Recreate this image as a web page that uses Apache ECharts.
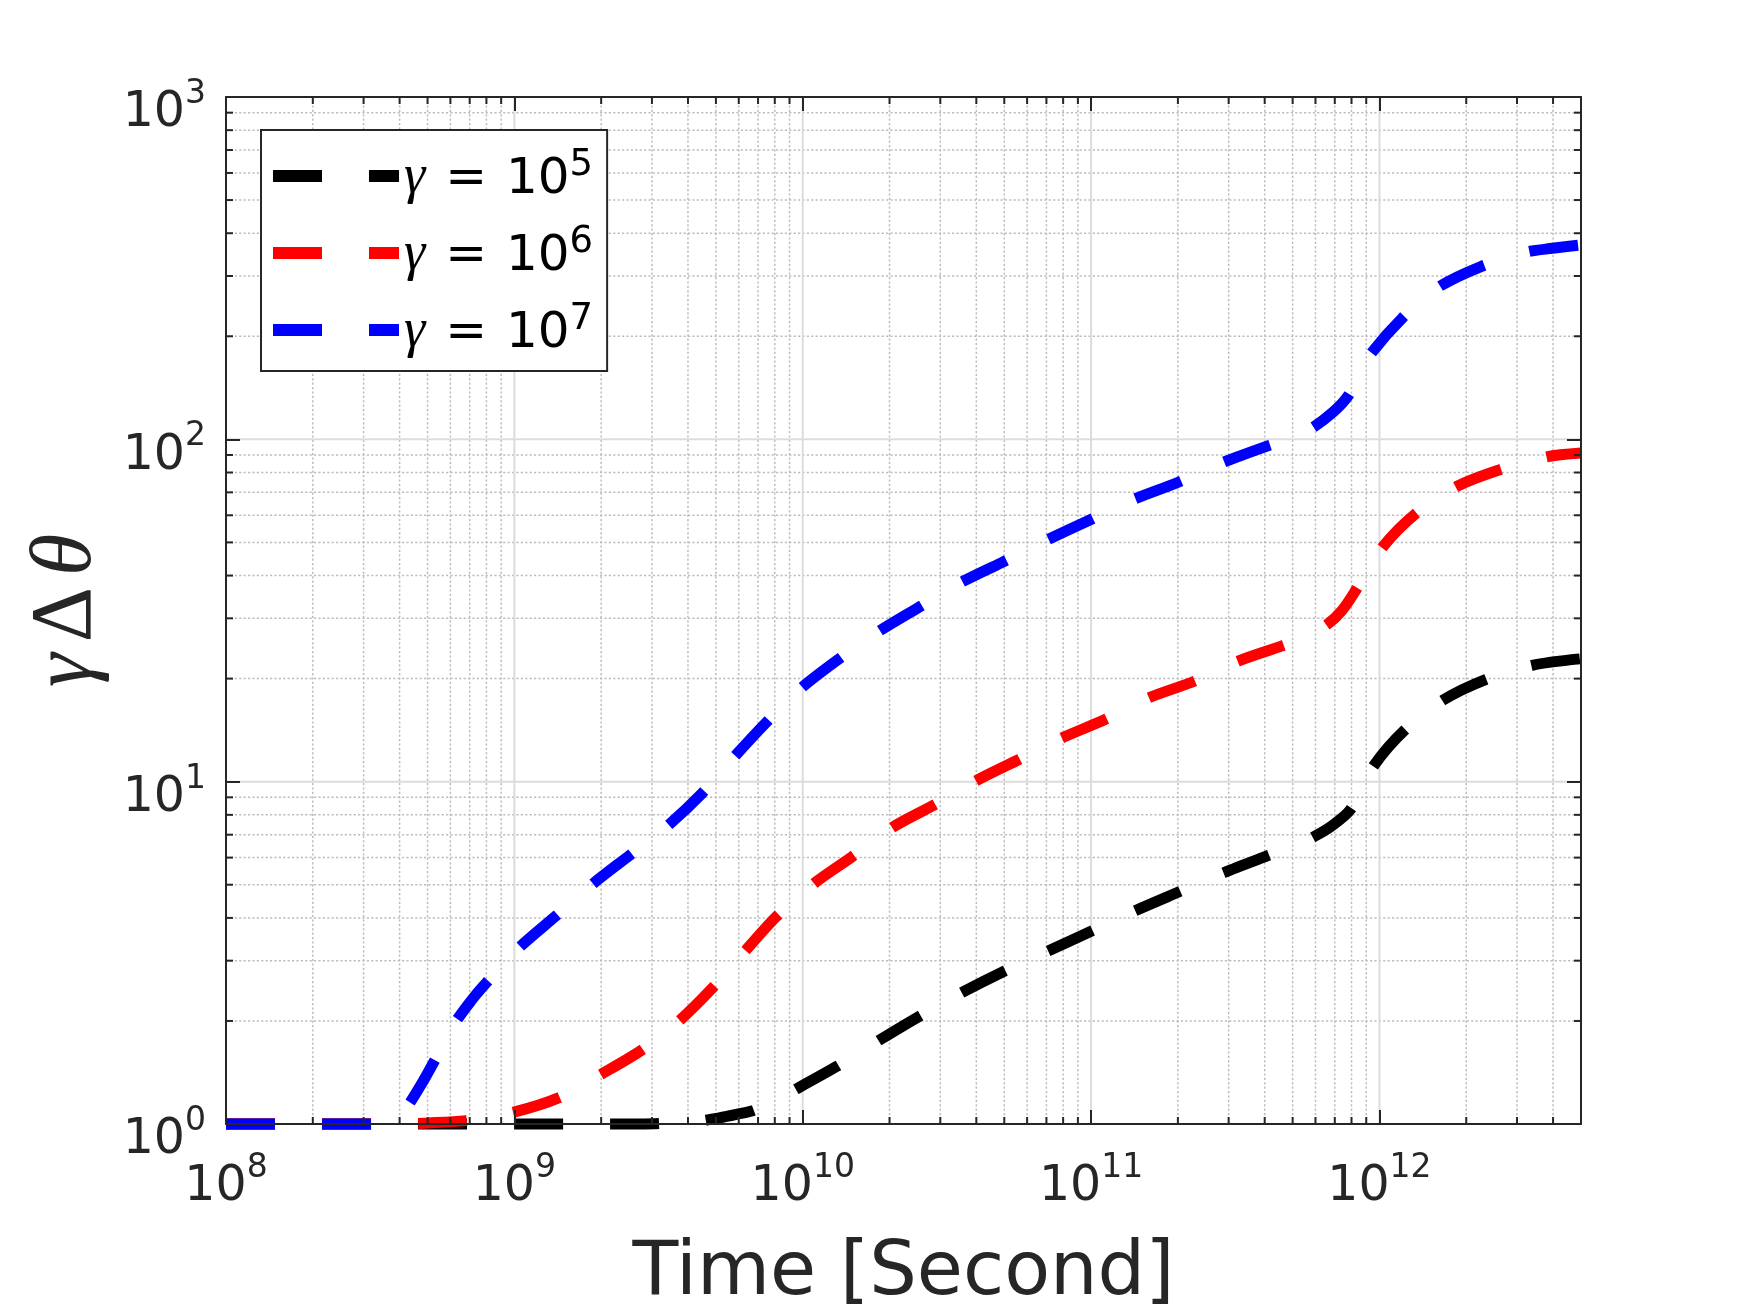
<!DOCTYPE html>
<html>
<head>
<meta charset="utf-8">
<script src="https://cdn.jsdelivr.net/npm/echarts/dist/echarts.min.js"></script>
<style>
html,body{margin:0;padding:0;background:#ffffff;}
#chart{width:1748px;height:1312px;}
</style>
</head>
<body>
<div id="chart"></div>
<script>
// ---------- data ----------
const seriesNames = ['γ = 10^5', 'γ = 10^6', 'γ = 10^7'];
const legendExponents = [5, 6, 7];
const seriesColors = ['#000000', '#ff0000', '#0000ff'];

const blackT = [1e8, 2.818e9, 3.548e9, 4.266e9, 5.129e9, 5.888e9, 6.761e9, 7.943e9, 9.441e9, 1.318e10,
  1.820e10, 2.541e10, 3.548e10, 5.012e10, 7.079e10, 1e11, 1.413e11, 2.042e11, 2.884e11, 4.074e11,
  5.248e11, 5.888e11, 6.761e11, 7.943e11, 9.550e11, 1.230e12, 1.660e12, 2.344e12, 3.388e12, 5.0e12];
const blackV = [1, 1, 1.007, 1.016, 1.042, 1.067, 1.096, 1.169, 1.262, 1.476,
  1.746, 2.065, 2.415, 2.799, 3.199, 3.656, 4.188, 4.786, 5.420, 6.067,
  6.577, 6.887, 7.379, 8.299, 11.12, 14.22, 17.30, 19.91, 21.88, 22.86];

const redT = [1e8, 3.981e8, 5.012e8, 6.761e8, 9.772e8, 1.429e9, 1.995e9, 2.754e9, 3.715e9, 4.898e9,
  6.310e9, 8.128e9, 1.096e10, 1.479e10, 2.042e10, 2.884e10, 3.981e10, 5.623e10, 7.943e10, 1.122e11,
  1.585e11, 2.291e11, 3.236e11, 4.571e11, 5.623e11, 6.607e11, 7.413e11, 8.318e11, 1.023e12, 1.349e12,
  1.862e12, 2.630e12, 3.802e12, 5.0e12];
const redV = [1, 1, 1.007, 1.023, 1.079, 1.194, 1.396, 1.641, 1.995, 2.512,
  3.199, 4.046, 5.047, 6.026, 7.345, 8.590, 10.05, 11.61, 13.43, 15.21,
  17.58, 19.68, 22.49, 24.89, 26.61, 28.84, 31.62, 36.48, 48.31, 61.09,
  72.95, 81.66, 88.92, 91.20];

const blueT = [1e8, 3.162e8, 3.631e8, 3.981e8, 4.285e8, 4.786e8, 5.248e8, 6.166e8, 7.079e8, 7.943e8,
  1.023e9, 1.380e9, 1.862e9, 2.512e9, 3.388e9, 4.467e9, 5.754e9, 7.413e9, 9.772e9, 1.318e10,
  1.820e10, 2.512e10, 3.467e10, 4.898e10, 6.918e10, 9.772e10, 1.380e11, 1.995e11, 2.818e11, 4.074e11,
  5.012e11, 5.888e11, 6.918e11, 7.762e11, 8.511e11, 9.333e11, 1.202e12, 1.585e12, 2.239e12, 3.236e12,
  3.981e12, 5.0e12];
const blueV = [1, 1, 1.019, 1.059, 1.135, 1.318, 1.514, 1.950, 2.291, 2.570,
  3.236, 4.027, 5.012, 6.095, 7.413, 9.226, 11.75, 14.79, 18.62, 22.65,
  27.35, 32.21, 37.84, 43.65, 50.47, 57.81, 66.37, 74.82, 85.11, 95.50,
  101.2, 108.4, 120.2, 133.4, 154.9, 177.8, 226.5, 276.7, 319.2, 352.4,
  361.4, 369.8];

// axes / ticks
const xMin = 1e8, xMax = 5e12;
const yMin = 1, yMax = 1000;
const xMajorTicks = [1e8, 1e9, 1e10, 1e11, 1e12];
const yMajorTicks = [1, 10, 100, 1000];
const minorMantissas = [2, 3, 4, 5, 6, 7, 8, 9];

// ---------- build helpers ----------
function zip(ts, vs) { return ts.map((t, i) => [t, vs[i]]); }
const xMinorTicks = [];
xMajorTicks.forEach(d => minorMantissas.forEach(m => { if (d * m < xMax) xMinorTicks.push(d * m); }));
const yMinorTicks = [];
yMajorTicks.forEach(d => minorMantissas.forEach(m => { if (d * m < yMax) yMinorTicks.push(d * m); }));
const xMajorInner = xMajorTicks.filter(v => v > xMin && v < xMax);
const yMajorInner = yMajorTicks.filter(v => v > yMin && v < yMax);

const AX = '#262626';
const FONT = "'DejaVu Sans', sans-serif";
const SERIF = "'Liberation Serif', 'DejaVu Serif', serif";

function powLabel(value) {
  const l = Math.log10(value);
  const e = Math.round(l);
  if (Math.abs(l - e) > 1e-6) return '';
  return '{b|10}{s|' + e + '}';
}
const tickRich = {
  b: { fontFamily: FONT, fontSize: 49, color: AX, lineHeight: 60, verticalAlign: 'bottom' },
  s: { fontFamily: FONT, fontSize: 33, color: AX, lineHeight: 20, verticalAlign: 'top' }
};

function vLine(color, width, dash) {
  return function (params, api) {
    const t = api.value(0);
    const p1 = api.coord([t, yMin]);
    const p2 = api.coord([t, yMax]);
    return { type: 'line', shape: { x1: p1[0], y1: p1[1], x2: p2[0], y2: p2[1] },
      style: { stroke: color, lineWidth: width, lineDash: dash } };
  };
}
function hLine(color, width, dash) {
  return function (params, api) {
    const v = api.value(1);
    const p1 = api.coord([xMin, v]);
    const p2 = api.coord([xMax, v]);
    return { type: 'line', shape: { x1: p1[0], y1: p1[1], x2: p2[0], y2: p2[1] },
      style: { stroke: color, lineWidth: width, lineDash: dash } };
  };
}
function vMinorTick(params, api) {
  const t = api.value(0);
  const p1 = api.coord([t, yMin]);
  const p2 = api.coord([t, yMax]);
  const L = 7;
  return { type: 'group', children: [
    { type: 'line', shape: { x1: p1[0], y1: p1[1], x2: p1[0], y2: p1[1] - L }, style: { stroke: AX, lineWidth: 2 } },
    { type: 'line', shape: { x1: p2[0], y1: p2[1], x2: p2[0], y2: p2[1] + L }, style: { stroke: AX, lineWidth: 2 } }
  ] };
}
function hMinorTick(params, api) {
  const v = api.value(1);
  const p1 = api.coord([xMin, v]);
  const p2 = api.coord([xMax, v]);
  const L = 7;
  return { type: 'group', children: [
    { type: 'line', shape: { x1: p1[0], y1: p1[1], x2: p1[0] + L, y2: p1[1] }, style: { stroke: AX, lineWidth: 2 } },
    { type: 'line', shape: { x1: p2[0], y1: p2[1], x2: p2[0] - L, y2: p2[1] }, style: { stroke: AX, lineWidth: 2 } }
  ] };
}
function customSeries(data, render, z) {
  return { type: 'custom', data: data, renderItem: render, silent: true, z: z, clip: false,
    xAxisIndex: 0, yAxisIndex: 0, encode: { x: 0, y: 1 }, animation: false, legendHoverLink: false };
}

const lineData = [zip(blackT, blackV), zip(redT, redV), zip(blueT, blueV)];
const lineSeries = lineData.map((d, i) => ({
  type: 'line', name: seriesNames[i], data: d, xAxisIndex: 0, yAxisIndex: 0,
  symbol: 'none', showSymbol: false, smooth: 0.3,
  color: seriesColors[i], itemStyle: { color: seriesColors[i] },
  lineStyle: { color: seriesColors[i], width: 11, type: [49, 47], cap: 'butt' },
  z: 3, clip: false, animation: false
}));

function axisCommon(extra) {
  return Object.assign({
    type: 'log', logBase: 10,
    axisLine: { show: true, onZero: false, lineStyle: { color: AX, width: 2 } },
    axisTick: { show: true, inside: true, length: 14, lineStyle: { color: AX, width: 2 } },
    splitLine: { show: false },
    minorTick: { show: false },
    minorSplitLine: { show: false },
    z: 5
  }, extra);
}

const option = {
  backgroundColor: '#ffffff',
  animation: false,
  grid: { left: 226, right: 167, top: 97, bottom: 188, containLabel: false, outerBoundsMode: 'none', show: false },
  legend: {
    show: true, orient: 'vertical', left: 261, top: 130,
    backgroundColor: '#ffffff', borderColor: AX, borderWidth: 2, borderRadius: 0,
    padding: [17, 14, 12, 12],
    itemWidth: 126, itemHeight: 12, itemGap: 19, itemTextGap: 10,
    icon: 'path://M0,0H49V12H0Z M96,0H126V12H96Z',
    itemStyle: { borderWidth: 0 },
    selectedMode: false, z: 10,
    data: seriesNames,
    formatter: function (name) {
      const i = seriesNames.indexOf(name);
      return '{g|γ}{e| =}{t| 10}{s|' + legendExponents[i] + '}';
    },
    textStyle: {
      color: '#000000', fontFamily: FONT, fontSize: 50,
      rich: {
        g: { fontFamily: SERIF, fontStyle: 'italic', fontSize: 54, color: '#000', lineHeight: 58, verticalAlign: 'bottom', padding: [0, 4, 0, 0] },
        e: { fontFamily: FONT, fontSize: 50, color: '#000', lineHeight: 58, verticalAlign: 'bottom', padding: [0, 3, 0, 0] },
        t: { fontFamily: FONT, fontSize: 50, color: '#000', lineHeight: 58, verticalAlign: 'bottom' },
        s: { fontFamily: FONT, fontSize: 37, color: '#000', lineHeight: 20, verticalAlign: 'top' }
      }
    }
  },
  xAxis: [
    axisCommon({
      position: 'bottom', min: xMin, max: xMax,
      axisLabel: { show: true, margin: 28, formatter: powLabel, rich: tickRich, showMinLabel: true, showMaxLabel: true },
      name: 'Time [Second]', nameLocation: 'middle', nameGap: 113,
      nameTextStyle: { fontFamily: FONT, fontSize: 75, color: AX }
    }),
    axisCommon({
      position: 'top', min: xMin, max: xMax, axisLabel: { show: false }
    })
  ],
  yAxis: [
    axisCommon({
      position: 'left', min: yMin, max: yMax,
      axisLabel: { show: true, margin: 20, formatter: powLabel, rich: tickRich, padding: [22, 0, 0, 0] },
      name: '{g|γ}{d|Δ}{g|θ}', nameLocation: 'middle', nameGap: 116, nameRotate: 90,
      nameTextStyle: {
        color: AX,
        rich: {
          g: { fontFamily: SERIF, fontStyle: 'italic', fontSize: 86, color: AX, padding: [0, 5, 0, 5] },
          d: { fontFamily: SERIF, fontSize: 86, color: AX, padding: [0, 6, 0, 6] }
        }
      }
    }),
    axisCommon({
      position: 'right', min: yMin, max: yMax, axisLabel: { show: false }
    })
  ],
  series: [
    customSeries(xMinorTicks.map(t => [t, yMin]), vLine('#bdbdbd', 1.5, [2.2, 2.2]), 1),
    customSeries(yMinorTicks.map(v => [xMin, v]), hLine('#bdbdbd', 1.5, [2.2, 2.2]), 1),
    customSeries(xMajorInner.map(t => [t, yMin]), vLine('#dcdcdc', 2, null), 1),
    customSeries(yMajorInner.map(v => [xMin, v]), hLine('#dcdcdc', 2, null), 1),
    ...lineSeries,
    customSeries(xMinorTicks.map(t => [t, yMin]), vMinorTick, 6),
    customSeries(yMinorTicks.map(v => [xMin, v]), hMinorTick, 6)
  ]
};

const chart = echarts.init(document.getElementById('chart'), null, { renderer: 'canvas' });
chart.setOption(option);
</script>
</body>
</html>
